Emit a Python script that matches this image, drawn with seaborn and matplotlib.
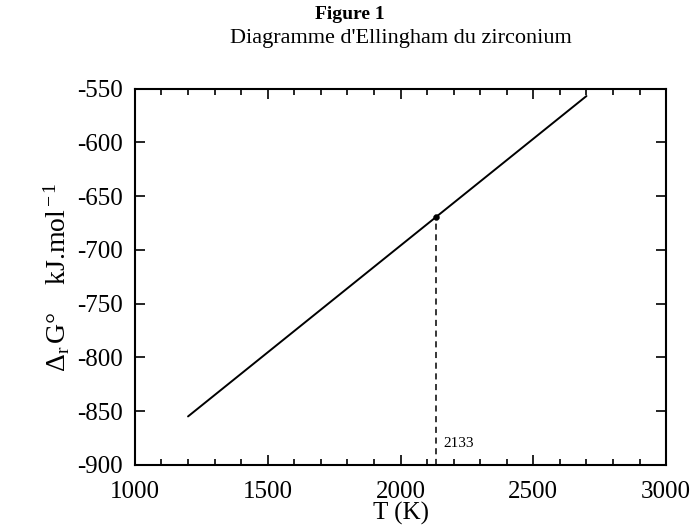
import matplotlib
matplotlib.use("Agg")
import matplotlib.pyplot as plt
import seaborn as sns
import pandas as pd
from matplotlib.ticker import MultipleLocator

# Data
T_line = [1200, 2700]
G_line = [-855, -557]
T_point = [2133]
G_point = [-669.5]
point_label = "2133"
x_ticks = [1000, 1500, 2000, 2500, 3000]
y_ticks = [-900, -850, -800, -750, -700, -650, -600, -550]

sns.set_style("ticks")
plt.rcParams['font.family'] = ['Liberation Serif', 'DejaVu Serif']
plt.rcParams['mathtext.fontset'] = 'custom'
plt.rcParams['mathtext.rm'] = 'Liberation Serif'
plt.rcParams['mathtext.it'] = 'Liberation Serif:italic'
plt.rcParams['axes.unicode_minus'] = False
plt.rcParams['text.color'] = 'black'
plt.rcParams['axes.labelcolor'] = 'black'
plt.rcParams['xtick.color'] = 'black'
plt.rcParams['ytick.color'] = 'black'

fig = plt.figure(figsize=(6.99, 5.30), dpi=100)
ax = fig.add_axes([0.193, 0.123, 0.760, 0.710])

df = pd.DataFrame({"T": T_line, "G": G_line})
sns.lineplot(data=df, x="T", y="G", ax=ax, color="black", linewidth=1.4)
ax.plot([T_point[0], T_point[0]], [y_ticks[0], G_point[0]], color="black",
        linestyle=(0, (4, 3)), linewidth=1.1)
sns.scatterplot(x=T_point, y=G_point, ax=ax, color="black", s=18, zorder=5, edgecolor="black")
ax.text(T_point[0] + 30, -880, point_label, fontsize=11, ha="left", va="center")

ax.set_xlim(1000, 3000)
ax.set_ylim(-900, -550)
ax.set_xticks(x_ticks)
ax.set_yticks(y_ticks)
ax.xaxis.set_minor_locator(MultipleLocator(100))
ax.tick_params(axis='both', which='both', direction='in', top=True, right=True,
               labelsize=18, width=1.2, color="black", labelcolor="black")
ax.tick_params(axis='y', which='major', length=7, pad=9)
ax.tick_params(axis='x', which='major', length=7, pad=12)
ax.tick_params(axis='x', which='minor', length=4, width=1.2)
for s in ax.spines.values():
    s.set_linewidth(1.5)
    s.set_color("black")

ax.set_xlabel("T (K)", fontsize=18, labelpad=-1)
ax.set_ylabel(r"$\Delta_{\rm r}\,$G°    kJ.mol$^{\rm -1}$", fontsize=20, labelpad=3)

fig.text(0.5, 0.972, "Figure 1", fontsize=14, fontweight="bold", ha="center", va="center")
fig.text(0.573, 0.927, "Diagramme d'Ellingham du zirconium", fontsize=16, ha="center", va="center")

fig.savefig("out.png", dpi=100)
